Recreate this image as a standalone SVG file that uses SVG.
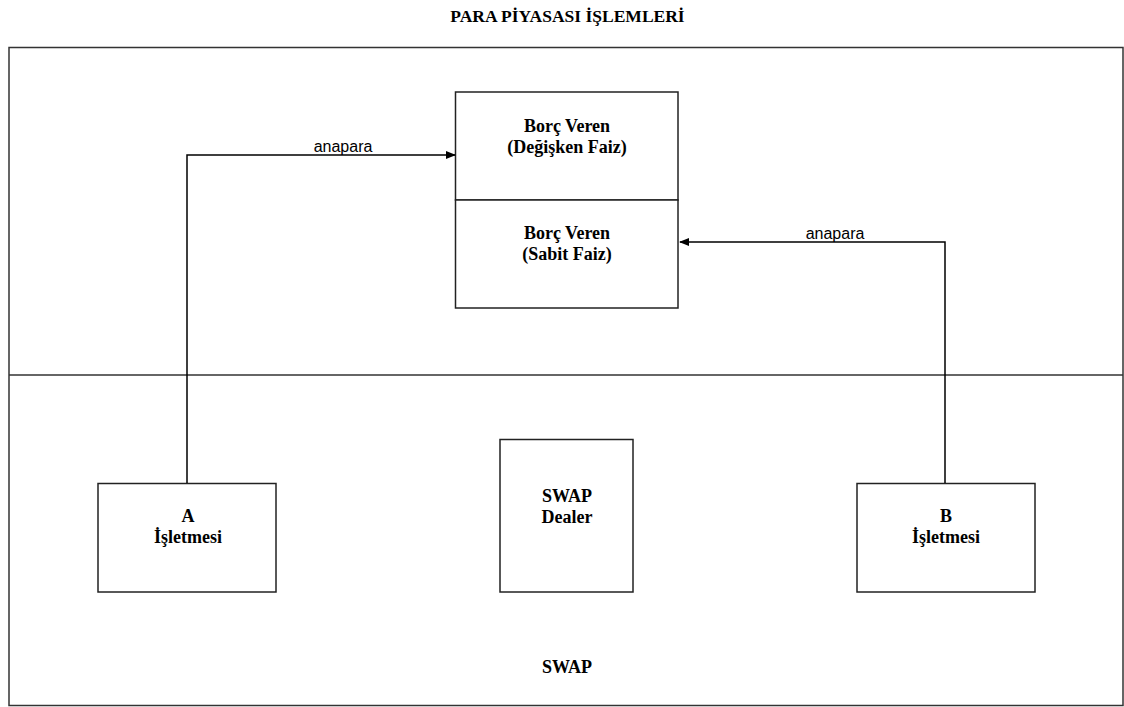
<svg xmlns="http://www.w3.org/2000/svg" width="1124" height="707" viewBox="0 0 1124 707">
<defs>
<style>
.box{fill:#fff;stroke:#222;stroke-width:1.5}
.frame{fill:none;stroke:#333;stroke-width:1.5}
.t{font-family:"Liberation Serif","Times New Roman",serif;font-weight:bold;font-size:18px;fill:#000;text-anchor:middle}
.lbl{font-family:"Liberation Sans",Arial,sans-serif;font-size:16px;fill:#000;text-anchor:middle}
.conn{fill:none;stroke:#000;stroke-width:1.5}
</style>
<marker id="ah" markerWidth="10" markerHeight="10" refX="9" refY="5" orient="auto" markerUnits="userSpaceOnUse">
<path d="M0,1 L10,5 L0,9 Z" fill="#000"/>
</marker>
</defs>
<rect width="1124" height="707" fill="#fff"/>
<text class="t" x="567.5" y="22" style="font-size:17.5px">PARA PİYASASI İŞLEMLERİ</text>
<g id="frame">
<rect class="frame" x="9" y="47.5" width="1114" height="658"/>
<line class="frame" x1="9" y1="375" x2="1123" y2="375"/>
</g>
<g id="lender-variable">
<rect class="box" x="455.5" y="92" width="222.5" height="108"/>
<text class="t" x="567" y="132">Borç Veren</text>
<text class="t" x="567" y="153">(Değişken Faiz)</text>
</g>
<g id="lender-fixed">
<rect class="box" x="455.5" y="200" width="222.5" height="108"/>
<text class="t" x="567" y="239">Borç Veren</text>
<text class="t" x="567" y="260">(Sabit Faiz)</text>
</g>
<g id="company-a">
<rect class="box" x="98" y="483.5" width="178" height="108.5"/>
<text class="t" x="188" y="522">A</text>
<text class="t" x="188" y="543">İşletmesi</text>
</g>
<g id="swap-dealer">
<rect class="box" x="500" y="439.5" width="133" height="152.5"/>
<text class="t" x="567" y="502">SWAP</text>
<text class="t" x="567" y="523">Dealer</text>
</g>
<g id="company-b">
<rect class="box" x="857" y="483.5" width="178" height="108.5"/>
<text class="t" x="946" y="522">B</text>
<text class="t" x="946" y="543">İşletmesi</text>
</g>
<text class="t" x="567" y="673">SWAP</text>
<g id="connectors">
<path class="conn" d="M187,483 V155 H455" marker-end="url(#ah)"/>
<text class="lbl" x="343" y="152">anapara</text>
<path class="conn" d="M945,483 V242 H680" marker-end="url(#ah)"/>
<text class="lbl" x="835" y="239">anapara</text>
</g>
</svg>
